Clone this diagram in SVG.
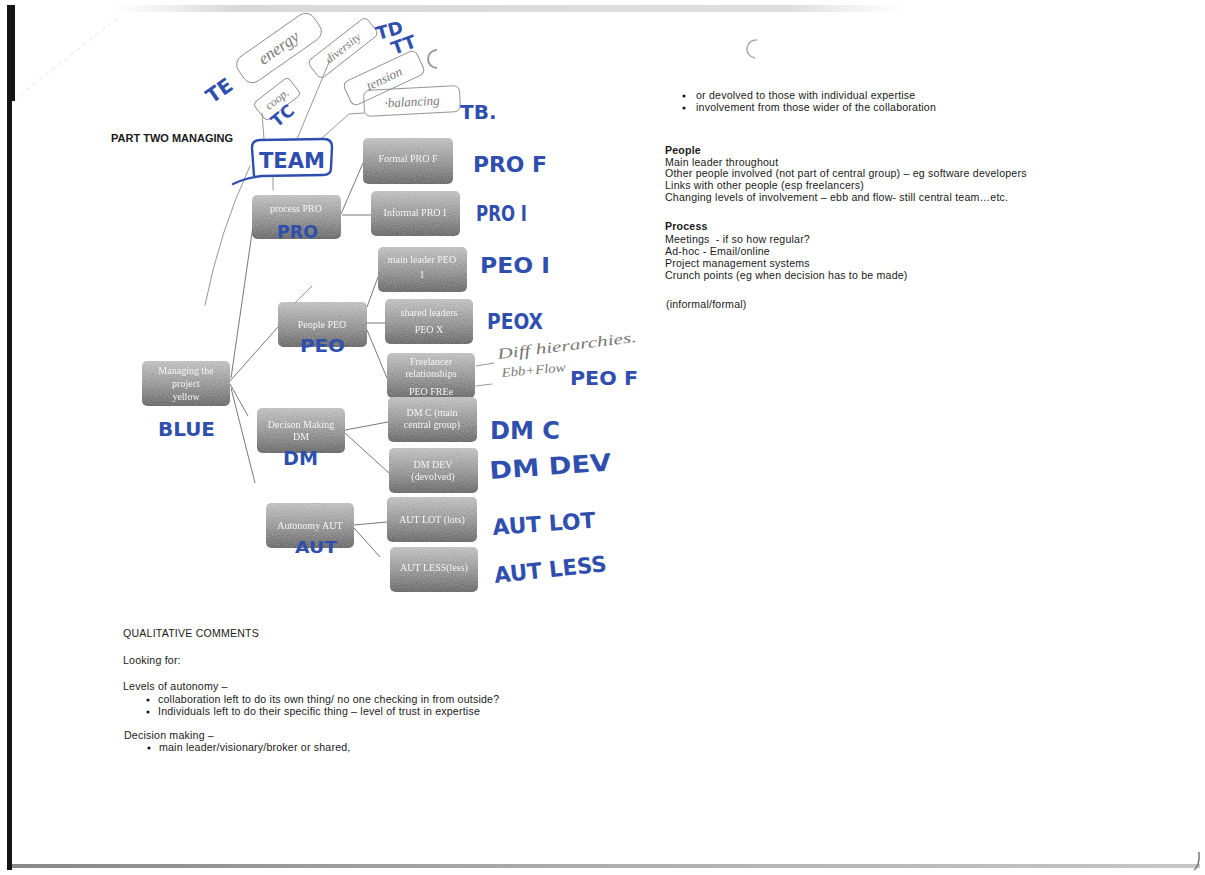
<svg xmlns="http://www.w3.org/2000/svg" width="1205" height="875" viewBox="0 0 1205 875">
  <defs>
    <linearGradient id="boxFill" x1="0" y1="0" x2="0" y2="1">
      <stop offset="0" stop-color="#c4c4c4"/>
      <stop offset="0.55" stop-color="#9a9a9a"/>
      <stop offset="1" stop-color="#707070"/>
    </linearGradient>
    <linearGradient id="topShade" x1="0" y1="0" x2="1" y2="0">
      <stop offset="0" stop-color="#d8d8d8" stop-opacity="0"/>
      <stop offset="0.15" stop-color="#c8c8c8"/>
      <stop offset="0.85" stop-color="#d0d0d0"/>
      <stop offset="1" stop-color="#e0e0e0" stop-opacity="0"/>
    </linearGradient>
    <linearGradient id="bottomShade" x1="0" y1="0" x2="1" y2="0">
      <stop offset="0" stop-color="#6a6a6a"/>
      <stop offset="0.5" stop-color="#9a9a9a"/>
      <stop offset="1" stop-color="#b8b8b8"/>
    </linearGradient>
    <filter id="grain" x="0" y="0" width="100%" height="100%">
      <feTurbulence type="fractalNoise" baseFrequency="0.9" numOctaves="1" seed="4" result="noise"/>
      <feColorMatrix in="noise" type="matrix" values="0.33 0.33 0.33 0 0  0.33 0.33 0.33 0 0  0.33 0.33 0.33 0 0  0 0 0 0 1" result="gray"/>
      <feBlend in="gray" in2="SourceGraphic" mode="soft-light" result="mix"/>
      <feComposite in="mix" in2="SourceGraphic" operator="in"/>
    </filter>
    <filter id="soft" x="-5%" y="-20%" width="110%" height="140%">
      <feGaussianBlur stdDeviation="0.35"/>
    </filter>
  </defs>
  <style>
    .box { fill: url(#boxFill); filter: url(#grain); }
    .nt { font-family: "Liberation Serif", serif; font-size: 10px; fill: #f4f4f4; text-anchor: middle; filter: url(#soft); }
    .link { stroke: #555; stroke-width: 0.8; fill: none; }
    .pencil { stroke: #8a8a8a; stroke-width: 0.9; fill: none; stroke-linecap: round; }
    .pw { font-family: "Liberation Serif", serif; font-style: italic; fill: #777; text-anchor: middle; }
    .pw.start { text-anchor: start; }
    .blue { font-family: "DejaVu Sans", sans-serif; font-weight: bold; fill: #2f4fae; }
    .print { font-family: "Liberation Sans", Arial, sans-serif; font-size: 10.6px; letter-spacing: 0.2px; fill: #1a1a1a; }
    .bold { font-weight: bold; }
    .heading { font-size: 11px; letter-spacing: 0; }
  </style>

  <!-- paper -->
  <rect x="0" y="0" width="1205" height="875" fill="#ffffff"/>
  <rect x="110" y="5" width="800" height="7" fill="url(#topShade)" opacity="0.7"/>
  <path d="M14 100 L120 16" stroke="#e4e4e4" stroke-width="1" stroke-dasharray="4 4" fill="none"/>
  <rect x="7" y="5" width="8" height="96" fill="#151515"/>
  <rect x="7" y="100" width="5" height="770" fill="#151515"/>
  <rect x="12" y="864" width="1188" height="4" fill="url(#bottomShade)" opacity="0.8"/>
  <path d="M1199 852 Q1200 866 1194 870" stroke="#777" stroke-width="1.5" fill="none"/>
  <path d="M437 50 A9 9 0 0 0 437 68" stroke="#999" stroke-width="2" fill="none"/>
  <path d="M757 40 A9 9 0 0 0 755 58" stroke="#aaa" stroke-width="1.5" fill="none"/>

  <!-- page heading -->
  <text class="print bold heading" x="111" y="142">PART TWO MANAGING</text>

  <!-- connectors of the chart -->
  <g id="connectors">
    <line class="link" x1="231" y1="378" x2="253" y2="226"/>
    <line class="link" x1="230" y1="381" x2="278" y2="327"/>
    <line class="link" x1="230" y1="384" x2="248" y2="416"/>
    <line class="link" x1="231" y1="388" x2="255" y2="483"/>
    <line class="link" x1="341" y1="214" x2="363" y2="163"/>
    <line class="link" x1="342" y1="215" x2="371" y2="215"/>
    <line class="link" x1="367" y1="307" x2="378" y2="277"/>
    <line class="link" x1="367" y1="323" x2="385" y2="323"/>
    <line class="link" x1="367" y1="330" x2="387" y2="378"/>
    <line class="link" x1="345" y1="430" x2="388" y2="422"/>
    <line class="link" x1="345" y1="433" x2="389" y2="473"/>
    <line class="link" x1="354" y1="525" x2="387" y2="522"/>
    <line class="link" x1="354" y1="528" x2="380" y2="557"/>
  </g>

  <!-- chart nodes -->
  <g id="node-root">
    <rect class="box" x="142" y="361" width="88" height="45" rx="5"/>
    <text class="nt" x="186" y="374">Managing the</text>
    <text class="nt" x="186" y="387">project</text>
    <text class="nt" x="186" y="400">yellow</text>
  </g>
  <g id="node-process">
    <rect class="box" x="252" y="195" width="89" height="44" rx="5"/>
    <text class="nt" x="296" y="212">process PRO</text>
  </g>
  <g id="node-formal">
    <rect class="box" x="363" y="138" width="90" height="46" rx="5"/>
    <text class="nt" x="408" y="162">Formal PRO F</text>
  </g>
  <g id="node-informal">
    <rect class="box" x="371" y="191" width="89" height="45" rx="5"/>
    <text class="nt" x="415" y="216">Informal PRO I</text>
  </g>
  <g id="node-people">
    <rect class="box" x="278" y="302" width="89" height="45" rx="5"/>
    <text class="nt" x="322" y="328">People PEO</text>
  </g>
  <g id="node-main-leader">
    <rect class="box" x="378" y="247" width="89" height="45" rx="5"/>
    <text class="nt" x="422" y="263">main leader PEO</text>
    <text class="nt" x="422" y="278">1</text>
  </g>
  <g id="node-shared">
    <rect class="box" x="385" y="299" width="88" height="45" rx="5"/>
    <text class="nt" x="429" y="316">shared leaders</text>
    <text class="nt" x="429" y="333">PEO X</text>
  </g>
  <g id="node-freelancer">
    <rect class="box" x="387" y="353" width="88" height="45" rx="5"/>
    <text class="nt" x="431" y="365">Freelancer</text>
    <text class="nt" x="431" y="377">relationships</text>
    <text class="nt" x="431" y="395">PEO FREe</text>
  </g>
  <g id="node-decision">
    <rect class="box" x="257" y="408" width="88" height="45" rx="5"/>
    <text class="nt" x="301" y="428">Decison Making</text>
    <text class="nt" x="301" y="440">DM</text>
  </g>
  <g id="node-dm-c">
    <rect class="box" x="388" y="397" width="89" height="45" rx="5"/>
    <text class="nt" x="432" y="416">DM C (main</text>
    <text class="nt" x="432" y="428">central group)</text>
  </g>
  <g id="node-dm-dev">
    <rect class="box" x="389" y="448" width="89" height="45" rx="5"/>
    <text class="nt" x="433" y="468">DM DEV</text>
    <text class="nt" x="433" y="480">(devolved)</text>
  </g>
  <g id="node-autonomy">
    <rect class="box" x="266" y="503" width="88" height="45" rx="5"/>
    <text class="nt" x="310" y="529">Autonomy AUT</text>
  </g>
  <g id="node-aut-lot">
    <rect class="box" x="387" y="497" width="90" height="45" rx="5"/>
    <text class="nt" x="432" y="523">AUT LOT (lots)</text>
  </g>
  <g id="node-aut-less">
    <rect class="box" x="390" y="547" width="88" height="45" rx="5"/>
    <text class="nt" x="434" y="571">AUT LESS(less)</text>
  </g>

  <!-- pencil notes around TEAM -->
  <g id="pencil-notes">
    <g transform="translate(279,48) rotate(-35)">
      <rect class="pencil" x="-46" y="-15" width="92" height="30" rx="10"/>
      <text class="pw" x="0" y="5" font-size="17">energy</text>
    </g>
    <g transform="translate(277,99) rotate(-38)">
      <rect class="pencil" x="-22" y="-11" width="44" height="22" rx="4"/>
      <text class="pw" x="0" y="4" font-size="12">coop.</text>
    </g>
    <g transform="translate(343,48) rotate(-38)">
      <rect class="pencil" x="-37" y="-11" width="74" height="22" rx="5"/>
      <text class="pw" x="0" y="4" font-size="12">diversity</text>
    </g>
    <g transform="translate(384,78) rotate(-25)">
      <rect class="pencil" x="-40" y="-13" width="80" height="26" rx="6"/>
      <text class="pw" x="0" y="5" font-size="13">tension</text>
    </g>
    <g transform="translate(412,101) rotate(-3)">
      <rect class="pencil" x="-48" y="-13" width="96" height="26" rx="6"/>
      <text class="pw" x="0" y="5" font-size="13">·balancing</text>
    </g>
    <path class="pencil" d="M262 113 L264 139"/>
    <path class="pencil" d="M330 60 L297 139"/>
    <path class="pencil" d="M364 113 L349 114 L321 139"/>
    <path class="pencil" d="M273 176 L273 190"/>
    <path class="pencil" d="M205 305 Q220 230 250 166"/>
    <path class="pencil" d="M295 303 L312 286"/>
    <text class="pw start" x="498" y="359" font-size="15" textLength="140" lengthAdjust="spacingAndGlyphs" transform="rotate(-7 498 359)">Diff hierarchies.</text>
    <text class="pw start" x="502" y="377" font-size="13" textLength="64" lengthAdjust="spacingAndGlyphs" transform="rotate(-5 502 377)">Ebb+Flow</text>
    <path class="pencil" d="M476 366 L494 363"/>
    <path class="pencil" d="M476 386 L492 384"/>
  </g>

  <!-- blue marker labels -->
  <g id="marker-notes">
    <path d="M254 176 L252 148 Q252 140 260 140 L324 139 Q332 139 332 147 L331 168 Q331 175 323 175 L262 176 Q245 178 233 184" stroke="#2f4fae" stroke-width="2.4" fill="none" stroke-linecap="round"/>
    <text class="blue" x="259" y="168" font-size="21" textLength="66" lengthAdjust="spacingAndGlyphs">TEAM</text>
    <text class="blue" x="0" y="0" font-size="20" transform="translate(212,104) rotate(-35)">TE</text>
    <text class="blue" x="0" y="0" font-size="17" transform="translate(277,128) rotate(-40)">TC</text>
    <text class="blue" x="0" y="0" font-size="18" transform="translate(378,40) rotate(-15)">TD</text>
    <text class="blue" x="0" y="0" font-size="18" transform="translate(394,55) rotate(-20)">TT</text>
    <text class="blue" x="460" y="119" font-size="20">TB.</text>
    <text class="blue" x="473" y="172" font-size="22" textLength="74" lengthAdjust="spacingAndGlyphs">PRO F</text>
    <text class="blue" x="476" y="221" font-size="21" textLength="51" lengthAdjust="spacingAndGlyphs">PRO I</text>
    <text class="blue" x="480" y="273" font-size="22" textLength="70" lengthAdjust="spacingAndGlyphs">PEO I</text>
    <text class="blue" x="487" y="329" font-size="21" textLength="56" lengthAdjust="spacingAndGlyphs">PEOX</text>
    <text class="blue" x="570" y="385" font-size="20" textLength="68" lengthAdjust="spacingAndGlyphs">PEO F</text>
    <text class="blue" x="490" y="439" font-size="24" textLength="70" lengthAdjust="spacingAndGlyphs">DM C</text>
    <text class="blue" x="490" y="479" font-size="24" textLength="122" lengthAdjust="spacingAndGlyphs" transform="rotate(-4 490 479)">DM DEV</text>
    <text class="blue" x="493" y="535" font-size="22" textLength="103" lengthAdjust="spacingAndGlyphs" transform="rotate(-4 493 535)">AUT LOT</text>
    <text class="blue" x="495" y="583" font-size="22" textLength="113" lengthAdjust="spacingAndGlyphs" transform="rotate(-6 495 583)">AUT LESS</text>
    <text class="blue" x="158" y="436" font-size="20" textLength="57" lengthAdjust="spacingAndGlyphs">BLUE</text>
    <text class="blue" x="277" y="238" font-size="17" textLength="41" lengthAdjust="spacingAndGlyphs">PRO</text>
    <text class="blue" x="300" y="352" font-size="18" textLength="45" lengthAdjust="spacingAndGlyphs">PEO</text>
    <text class="blue" x="283" y="465" font-size="20" textLength="35" lengthAdjust="spacingAndGlyphs">DM</text>
    <text class="blue" x="295" y="553" font-size="16" textLength="42" lengthAdjust="spacingAndGlyphs">AUT</text>
  </g>

  <!-- right column notes -->
  <g id="notes-right">
    <circle cx="684" cy="96" r="1.6" fill="#1a1a1a"/>
    <text class="print" x="696" y="99">or devolved to those with individual expertise</text>
    <circle cx="684" cy="108" r="1.6" fill="#1a1a1a"/>
    <text class="print" x="696" y="111">involvement from those wider of the collaboration</text>
    <text class="print bold" x="665" y="154">People</text>
    <text class="print" x="665" y="166">Main leader throughout</text>
    <text class="print" x="665" y="177">Other people involved (not part of central group) – eg software developers</text>
    <text class="print" x="665" y="189">Links with other people (esp freelancers)</text>
    <text class="print" x="665" y="201">Changing levels of involvement – ebb and flow- still central team…etc.</text>
    <text class="print bold" x="665" y="230">Process</text>
    <text class="print" x="665" y="243" xml:space="preserve">Meetings  - if so how regular?</text>
    <text class="print" x="665" y="255">Ad-hoc - Email/online</text>
    <text class="print" x="665" y="267">Project management systems</text>
    <text class="print" x="665" y="279">Crunch points (eg when decision has to be made)</text>
    <text class="print" x="666" y="308">(informal/formal)</text>
  </g>

  <!-- qualitative comments -->
  <g id="notes-bottom">
    <text class="print" x="123" y="637">QUALITATIVE COMMENTS</text>
    <text class="print" x="123" y="664">Looking for:</text>
    <text class="print" x="123" y="690">Levels of autonomy –</text>
    <circle cx="148" cy="700" r="1.6" fill="#1a1a1a"/>
    <text class="print" x="158" y="703">collaboration left to do its own thing/ no one checking in from outside?</text>
    <circle cx="148" cy="712" r="1.6" fill="#1a1a1a"/>
    <text class="print" x="158" y="715">Individuals left to do their specific thing – level of trust in expertise</text>
    <text class="print" x="124" y="739">Decision making –</text>
    <circle cx="149" cy="748" r="1.6" fill="#1a1a1a"/>
    <text class="print" x="159" y="751">main leader/visionary/broker or shared,</text>
  </g>
</svg>
